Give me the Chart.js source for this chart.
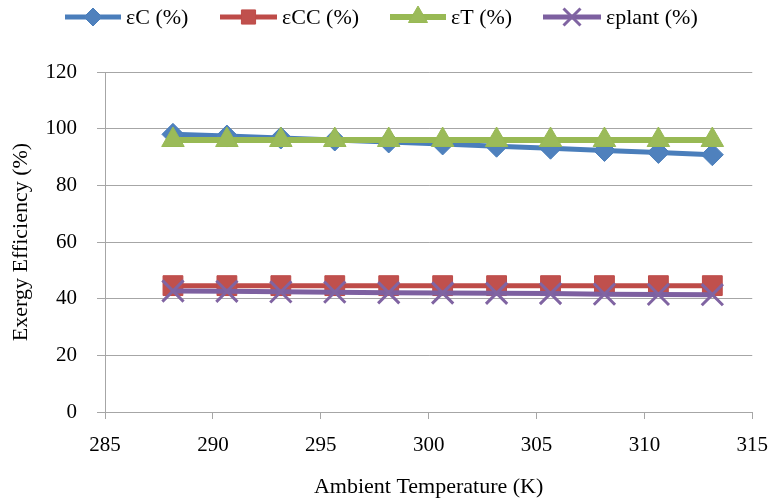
<!DOCTYPE html>
<html>
<head>
<meta charset="utf-8">
<script src="https://cdn.jsdelivr.net/npm/chart.js@4.4.1/dist/chart.umd.min.js"></script>
<style>
  html, body { margin: 0; padding: 0; background: #fff; }
  #wrap { width: 782px; height: 504px; position: relative; }
</style>
</head>
<body>
<div id="wrap"><canvas id="exergyChart"></canvas></div>
<script>
// ambient temperature (K) and exergy efficiencies (%)
const ambientTemp = [288.15, 290.65, 293.15, 295.65, 298.15, 300.65, 303.15, 305.65, 308.15, 310.65, 313.15];
const effC     = [98.0, 97.4, 96.7, 96.0, 95.3, 94.6, 93.8, 93.1, 92.3, 91.6, 90.8];
const effCC    = [44.6, 44.6, 44.6, 44.6, 44.6, 44.6, 44.6, 44.6, 44.6, 44.6, 44.6];
const effT     = [96.0, 96.0, 96.0, 96.0, 96.0, 96.0, 96.0, 96.0, 96.0, 96.0, 96.0];
const effPlant = [42.7, 42.6, 42.4, 42.3, 42.1, 42.0, 41.9, 41.8, 41.6, 41.5, 41.4];
const seriesNames = ['εC (%)', 'εCC (%)', 'εT (%)', 'εplant (%)'];

const serif = "'Liberation Serif', 'DejaVu Serif', serif";
const gridGray = '#a6a6a6';

function pts(vals) {
    return ambientTemp.map((t, i) => ({ x: t, y: vals[i] }));
}

// legend drawn by hand so each entry shows line + marker like Excel
const legendSpots = [
    { x1: 65,  x2: 121, text: 126, r: 9 },
    { x1: 220, x2: 277, text: 282, r: 10 },
    { x1: 390, x2: 446, text: 451, r: 11 },
    { x1: 543, x2: 601, text: 606, r: 12 }
];

const lineLegend = {
    id: 'lineLegend',
    afterDraw(chart) {
        const ctx = chart.ctx;
        const y = 17;
        chart.data.datasets.forEach((ds, i) => {
            const s = legendSpots[i];
            ctx.save();
            ctx.strokeStyle = ds.borderColor;
            ctx.lineWidth = ds.borderWidth;
            ctx.beginPath();
            ctx.moveTo(s.x1, y);
            ctx.lineTo(s.x2, y);
            ctx.stroke();
            ctx.fillStyle = ds.pointBackgroundColor;
            ctx.strokeStyle = ds.pointBorderColor;
            ctx.lineWidth = ds.pointBorderWidth;
            Chart.helpers.drawPoint(ctx, {
                pointStyle: ds.pointStyle, rotation: 0,
                radius: s.r, borderWidth: ds.pointBorderWidth
            }, (s.x1 + s.x2) / 2, y);
            ctx.fillStyle = '#000';
            ctx.font = '22px ' + serif;
            ctx.textBaseline = 'middle';
            ctx.textAlign = 'left';
            ctx.fillText(ds.label, s.text, y + 1);
            ctx.restore();
        });
    }
};

new Chart(document.getElementById('exergyChart'), {
    type: 'line',
    data: {
        datasets: [{
            label: seriesNames[0], data: pts(effC), order: 4,
            borderColor: '#4a7ebb', borderWidth: 5,
            pointStyle: 'rectRot', pointRadius: 11,
            pointBackgroundColor: '#4f81bd', pointBorderColor: '#4a7ebb', pointBorderWidth: 1
        }, {
            label: seriesNames[1], data: pts(effCC), order: 3,
            borderColor: '#be4b48', borderWidth: 5,
            pointStyle: 'rect', pointRadius: 14,
            pointBackgroundColor: '#c0504d', pointBorderColor: '#be4b48', pointBorderWidth: 1
        }, {
            label: seriesNames[2], data: pts(effT), order: 2,
            borderColor: '#98b954', borderWidth: 6,
            pointStyle: 'triangle', pointRadius: 13,
            pointBackgroundColor: '#9bbb59', pointBorderColor: '#98b954', pointBorderWidth: 1
        }, {
            label: seriesNames[3], data: pts(effPlant), order: 1,
            borderColor: '#7d60a0', borderWidth: 5,
            pointStyle: 'crossRot', pointRadius: 15,
            pointBackgroundColor: '#8064a2', pointBorderColor: '#8064a2', pointBorderWidth: 3
        }]
    },
    options: {
        responsive: true, maintainAspectRatio: false, animation: false,
        layout: { padding: { left: 0, right: 28, top: 72, bottom: 0 } },
        plugins: { legend: { display: false }, tooltip: { enabled: false } },
        elements: { line: { tension: 0 } },
        scales: {
            x: {
                type: 'linear', min: 285, max: 315,
                ticks: { stepSize: 5, padding: 14, color: '#000', font: { family: serif, size: 21 } },
                grid: { drawOnChartArea: false, drawTicks: true, tickLength: 7, color: gridGray },
                border: { color: gridGray },
                title: {
                    display: true, text: 'Ambient Temperature (K)', color: '#000',
                    font: { family: serif, size: 22 }, padding: { top: 0, bottom: 4 }
                },
                afterFit: (scale) => { scale.height = 92; }
            },
            y: {
                min: 0, max: 120,
                ticks: { stepSize: 20, padding: 20, color: '#000', font: { family: serif, size: 21 } },
                grid: { color: gridGray, tickLength: 8 },
                border: { color: gridGray },
                title: {
                    display: true, text: 'Exergy Efficiency (%)', color: '#000',
                    font: { family: serif, size: 22 }, padding: { top: 8, bottom: 0 }
                },
                afterFit: (scale) => { scale.width = 105; }
            }
        }
    },
    plugins: [lineLegend]
});
</script>
</body>
</html>
